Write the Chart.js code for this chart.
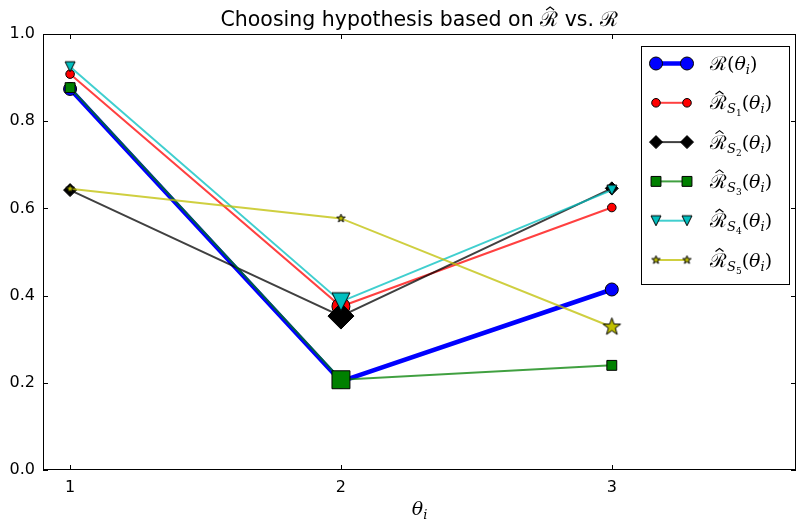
<!DOCTYPE html>
<html lang="en">
<head>
<meta charset="UTF-8">
<title>Choosing hypothesis based on R-hat vs. R</title>
<script src="https://cdn.jsdelivr.net/npm/chart.js"></script>
<style>
  html, body { margin: 0; padding: 0; background: #fff; }
  #wrap { width: 798px; height: 522px; }
</style>
</head>
<body>
<div id="wrap"><canvas id="myChart" width="798" height="522"></canvas></div>
<script>
// data
const thetas = [1, 2, 3];
const xTicks = [1, 2, 3];
const yTicks = [0.0, 0.2, 0.4, 0.6, 0.8, 1.0];
const trueRisk = [0.874, 0.203, 0.414];
const riskS1 = [0.908, 0.375, 0.602];
const riskS2 = [0.642, 0.353, 0.646];
const riskS3 = [0.877, 0.207, 0.240];
const riskS4 = [0.925, 0.386, 0.642];
const riskS5 = [0.645, 0.577, 0.328];

// marker images for shapes chart.js doesn't have (filled star, matplotlib 'v')
function makeStar(R, fill) {
    const s = Math.ceil(2 * R + 4);
    const c = document.createElement('canvas');
    c.width = s; c.height = s;
    const g = c.getContext('2d');
    g.translate(s / 2, s / 2);
    g.beginPath();
    for (let k = 0; k < 10; k++) {
        const r = k % 2 === 0 ? R : R * 0.4;
        const a = -Math.PI / 2 + k * Math.PI / 5;
        g.lineTo(r * Math.cos(a), r * Math.sin(a));
    }
    g.closePath();
    g.fillStyle = fill; g.fill();
    g.lineWidth = 1; g.strokeStyle = '#000'; g.stroke();
    return c;
}
function makeTri(h, fill) {
    const s = Math.ceil(2 * h + 4);
    const c = document.createElement('canvas');
    c.width = s; c.height = s;
    const g = c.getContext('2d');
    g.translate(s / 2, s / 2);
    g.beginPath();
    g.moveTo(-h, -h); g.lineTo(h, -h); g.lineTo(0, h);
    g.closePath();
    g.fillStyle = fill; g.fill();
    g.lineWidth = 1; g.strokeStyle = '#000'; g.stroke();
    return c;
}

const series = [
    { vals: trueRisk, fill: '#0000ff', line: '#0000ff', width: 4.5, shape: 'circle', r: 6.5, bigR: 6.5, sub: null },
    { vals: riskS1, fill: '#ff0000', line: 'rgba(255,0,0,0.75)', width: 2, shape: 'circle', r: 4.3, bigR: 9, sub: '1' },
    { vals: riskS2, fill: '#000000', line: 'rgba(0,0,0,0.75)', width: 2, shape: 'rectRot', r: 6.5, bigR: 13, sub: '2' },
    { vals: riskS3, fill: '#008000', line: 'rgba(0,128,0,0.75)', width: 2, shape: 'rect', r: 7, bigR: 12.7, sub: '3' },
    { vals: riskS4, fill: '#00bfbf', line: 'rgba(0,191,191,0.75)', width: 2, shape: makeTri(5, '#00bfbf'), big: makeTri(9, '#00bfbf'), r: 5, bigR: 9, sub: '4' },
    { vals: riskS5, fill: '#bfbf00', line: 'rgba(191,191,0,0.75)', width: 2, shape: makeStar(4.4, '#bfbf00'), big: makeStar(9.2, '#bfbf00'), r: 4.4, bigR: 9.2, sub: '5' }
];

const datasets = series.map((s, i) => {
    // the chosen (minimum) hypothesis of each empirical risk gets a big marker
    const minIdx = s.sub ? s.vals.indexOf(Math.min(...s.vals)) : -1;
    return {
        label: s.sub ? 'R_S' + s.sub : 'R',
        data: thetas.map((t, j) => ({ x: t, y: s.vals[j] })),
        borderColor: s.line,
        borderWidth: s.width,
        backgroundColor: s.fill,
        pointBackgroundColor: s.fill,
        pointBorderColor: '#000',
        pointBorderWidth: 1,
        pointStyle: s.vals.map((v, j) => (j === minIdx && s.big) ? s.big : s.shape),
        pointRadius: s.vals.map((v, j) => j === minIdx ? s.bigR : s.r),
        pointHoverRadius: s.vals.map((v, j) => j === minIdx ? s.bigR : s.r),
        tension: 0,
        fill: false,
        order: series.length - 1 - i
    };
});

// draw text pieces (for math-like labels) one after another
function drawRuns(ctx, runs, x, y, align) {
    let w = 0;
    runs.forEach(r => { ctx.font = r.font; r.w = ctx.measureText(r.t).width; w += r.w; });
    let cx = align === 'center' ? x - w / 2 : x;
    ctx.textAlign = 'left';
    ctx.textBaseline = 'alphabetic';
    ctx.fillStyle = '#000';
    runs.forEach(r => {
        ctx.font = r.font;
        ctx.fillText(r.t, cx, y + (r.dy || 0));
        if (r.hat) {
            const mx = cx + r.w / 2 + 1;
            const top = y - r.hat;
            ctx.save();
            ctx.strokeStyle = '#000';
            ctx.lineWidth = 1.1;
            ctx.beginPath();
            ctx.moveTo(mx - 4, top + 3);
            ctx.lineTo(mx, top);
            ctx.lineTo(mx + 4, top + 3);
            ctx.stroke();
            ctx.restore();
        }
        cx += r.w;
    });
}

const SERIF = '"DejaVu Serif"';
function riskRuns(sub) {
    const runs = [{ t: 'ℛ', font: '19px ' + SERIF, hat: sub ? 18 : 0 }];
    if (sub) {
        runs.push({ t: 'S', font: 'italic 13px ' + SERIF, dy: 4 });
        runs.push({ t: sub, font: '9px ' + SERIF, dy: 7 });
    }
    runs.push({ t: '(', font: '19px ' + SERIF });
    runs.push({ t: 'θ', font: 'italic 19px ' + SERIF });
    runs.push({ t: 'i', font: 'italic 13px ' + SERIF, dy: 4 });
    runs.push({ t: ')', font: '19px ' + SERIF });
    return runs;
}

const decorPlugin = {
    id: 'decor',
    afterDatasetsDraw(chart) {
        const ctx = chart.ctx;
        const a = chart.chartArea;
        const xs = chart.scales.x, ys = chart.scales.y;
        ctx.save();
        // frame + inward ticks
        ctx.strokeStyle = '#000';
        ctx.lineWidth = 1;
        ctx.strokeRect(a.left + 0.5, a.top + 0.5, a.right - a.left - 1, a.bottom - a.top - 1);
        ctx.beginPath();
        xTicks.forEach(v => {
            const px = Math.round(xs.getPixelForValue(v)) + 0.5;
            ctx.moveTo(px, a.bottom); ctx.lineTo(px, a.bottom - 5);
            ctx.moveTo(px, a.top); ctx.lineTo(px, a.top + 5);
        });
        yTicks.forEach(v => {
            const py = Math.round(ys.getPixelForValue(v)) + 0.5;
            ctx.moveTo(a.left, py); ctx.lineTo(a.left + 5, py);
            ctx.moveTo(a.right, py); ctx.lineTo(a.right - 5, py);
        });
        ctx.stroke();

        // title
        drawRuns(ctx, [
            { t: 'Choosing hypothesis based on ', font: '20.5px "DejaVu Sans"' },
            { t: 'ℛ', font: '20.5px ' + SERIF, hat: 19 },
            { t: ' vs. ', font: '20.5px "DejaVu Sans"' },
            { t: 'ℛ', font: '20.5px ' + SERIF }
        ], (a.left + a.right) / 2, 26, 'center');

        // x axis title
        drawRuns(ctx, [
            { t: 'θ', font: 'italic 19px ' + SERIF },
            { t: 'i', font: 'italic 13px ' + SERIF, dy: 4 }
        ], (a.left + a.right) / 2, 515, 'center');

        // legend
        const box = { l: 641, t: 46, r: 790, b: 285 };
        ctx.fillStyle = '#fff';
        ctx.fillRect(box.l, box.t, box.r - box.l, box.b - box.t);
        ctx.strokeStyle = '#000';
        ctx.lineWidth = 1;
        ctx.strokeRect(box.l + 0.5, box.t + 0.5, box.r - box.l - 1, box.b - box.t - 1);
        series.forEach((s, i) => {
            const y = 63.5 + i * 39.3;
            ctx.strokeStyle = s.line;
            ctx.lineWidth = s.width;
            ctx.beginPath();
            ctx.moveTo(656, y); ctx.lineTo(687, y);
            ctx.stroke();
            [656, 687].forEach(x => {
                ctx.fillStyle = s.fill;
                ctx.strokeStyle = '#000';
                ctx.lineWidth = 1;
                Chart.helpers.drawPoint(ctx, { pointStyle: s.shape, radius: s.r, rotation: 0, borderWidth: 1 }, x, y);
            });
            drawRuns(ctx, riskRuns(s.sub), 710, y + 6.5, 'left');
        });
        ctx.restore();
    }
};

const ctx = document.getElementById('myChart').getContext('2d');
const myChart = new Chart(ctx, {
    type: 'line',
    data: { datasets: datasets },
    options: {
        responsive: false,
        animation: false,
        devicePixelRatio: 1,
        layout: { autoPadding: false, padding: { top: 34, right: 2, left: 0, bottom: 0 } },
        plugins: {
            legend: { display: false },
            title: { display: false },
            tooltip: { enabled: false }
        },
        scales: {
            x: {
                type: 'linear',
                min: 0.9,
                max: 3.68,
                grid: { display: false, drawTicks: false },
                border: { display: false },
                afterBuildTicks: scale => { scale.ticks = xTicks.map(v => ({ value: v })); },
                afterFit: scale => {
                    scale.height = 52;
                    scale.paddingLeft = 0;
                    scale.paddingRight = 0;
                },
                ticks: {
                    color: '#000',
                    padding: 8,
                    font: { family: 'DejaVu Sans', size: 16 },
                    callback: v => String(v)
                }
            },
            y: {
                min: 0,
                max: 1,
                grid: { display: false, drawTicks: false },
                border: { display: false },
                afterBuildTicks: scale => { scale.ticks = yTicks.map(v => ({ value: v })); },
                afterFit: scale => { scale.width = 43; },
                ticks: {
                    color: '#000',
                    padding: 8,
                    font: { family: 'DejaVu Sans', size: 16 },
                    callback: v => Number(v).toFixed(1)
                }
            }
        }
    },
    plugins: [decorPlugin]
});
</script>
</body>
</html>
